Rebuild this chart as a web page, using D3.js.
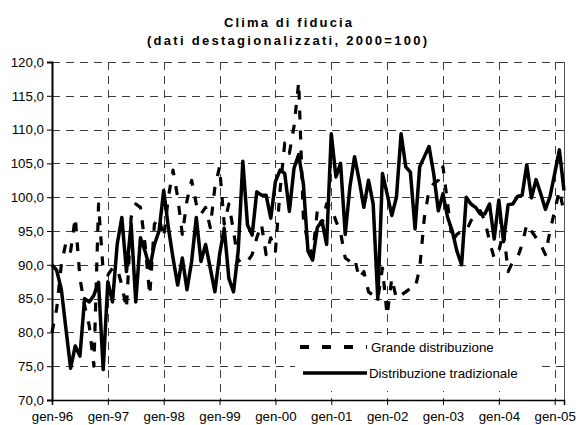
<!DOCTYPE html>
<html>
<head>
<meta charset="utf-8">
<script src="https://cdn.jsdelivr.net/npm/d3@7/dist/d3.min.js"></script>
<style>
  html, body { margin: 0; padding: 0; background: #fff; }
  svg { display: block; font-family: "Liberation Sans", Arial, sans-serif; }
</style>
</head>
<body>
<div id="chart"></div>
<script>
// ---- DATA ----
const titleLines = ["Clima di fiducia", "(dati destagionalizzati, 2000=100)"];
const seriesNames = ["Grande distribuzione", "Distribuzione tradizionale"];
const xTickLabels = ["gen-96","gen-97","gen-98","gen-99","gen-00","gen-01","gen-02","gen-03","gen-04","gen-05"];
const yTicks = [70,75,80,85,90,95,100,105,110,115,120];

// monthly values, gen-96 ... mar-05
const grandeDistribuzione = [
  80, 83.5, 90, 93.3, 92, 97, 88, 84, 81, 75, 99, 89,
  88.5, 89.5, 89.5, 87, 83.5, 97, 99, 98.5, 93, 85.5, 96, 97,
  94, 100, 104, 100, 94.5, 99.5, 102.5, 99, 97.5, 98.5, 95.5, 101.5,
  104.5, 96, 99, 95, 90.5, 91, 90.5, 91.5, 94, 96, 91.5, 94,
  92, 101, 108, 106.5, 110.5, 117, 97, 93, 91.5, 98, 96, 99,
  98.5, 96.5, 94.8, 91, 90.5, 91, 88, 89, 86, 85.5, 85, 89.5,
  82.5, 88, 85, 85.5, 86, 86.5, 86.5, 89.5, 97, 101, 102, 102.5,
  104.5, 99, 93.5, 94.5, 95, 95, 96.5, 97.5, 98, 96.5, 93.5, 91,
  92, 95, 89, 90.5, 91, 93, 96, 95, 94, 93, 91.5, 95,
  98, 101, 97.8
];
const distribuzioneTradizionale = [
  90, 89.2, 86.4, 80.5, 74.7, 78, 76.5, 85, 84.5, 85.5, 87.4, 74.5,
  87.5, 84.5, 93, 97, 89, 96, 84.5, 94, 92, 89.5, 93, 95,
  101, 95.5, 91, 87, 91, 86.3, 90.5, 97, 90.5, 93, 89.5, 86,
  91.5, 95.4, 88, 86, 92, 105.3, 95.9, 94.4, 100.8, 100.3, 100.3, 96.9,
  102.3, 104, 103.5, 97.9, 104.3, 106.3, 102, 92, 90.7, 95.5, 96.5, 93,
  109.4, 103, 105, 94.5, 101.5, 106, 102.5, 98.5, 102.5, 99, 84.9, 103.5,
  100.5, 97.3, 100, 109.4, 104.5, 103.7, 95.3, 104.5, 106, 107.5, 103.5, 98,
  100.5, 97, 95, 92, 90, 100, 99, 98.5, 97.5, 97.5, 99, 93.8,
  99.6, 93.4, 98.9, 99, 100.1, 100.3, 104.8, 99.9, 102.6, 100.5, 98.2, 100.1,
  103.5, 107, 101
];

// ---- LAYOUT ----
const W = 580, H = 425;
const plot = { left: 52, right: 564, top: 62, bottom: 400 };
const FONT = 13.3;
const FAMILY = "'Liberation Sans', Arial, sans-serif";

const svg = d3.select("#chart").append("svg")
  .attr("width", W).attr("height", H);

svg.append("rect").attr("width", W).attr("height", H).attr("fill", "#fff");

const n = distribuzioneTradizionale.length;
const x = d3.scaleLinear().domain([0, n - 1]).range([plot.left, plot.right]);
const y = d3.scaleLinear().domain([70, 120]).range([plot.bottom, plot.top]);
const xTickIdx = xTickLabels.map((d, i) => i * 12);

// title
svg.append("text").attr("x", 288).attr("y", 27)
  .attr("text-anchor", "middle").attr("font-weight", "bold").attr("font-family", FAMILY)
  .attr("font-size", 13).attr("textLength", 128).attr("lengthAdjust", "spacing")
  .text(titleLines[0]);
svg.append("text").attr("x", 287).attr("y", 45)
  .attr("text-anchor", "middle").attr("font-weight", "bold").attr("font-family", FAMILY)
  .attr("font-size", 13).attr("textLength", 280).attr("lengthAdjust", "spacing")
  .text(titleLines[1]);

// gridlines
const grid = svg.append("g").attr("stroke", "#3a3a3a").attr("stroke-width", 1)
  .attr("stroke-dasharray", "8,6").attr("shape-rendering", "crispEdges");
grid.selectAll("line.h").data(yTicks.filter(v => v > 70)).enter().append("line")
  .attr("x1", plot.left).attr("x2", plot.right)
  .attr("y1", d => Math.round(y(d)) + 0.5).attr("y2", d => Math.round(y(d)) + 0.5);
grid.selectAll("line.v").data(xTickIdx.filter(v => v > 0)).enter().append("line")
  .attr("y1", plot.top).attr("y2", plot.bottom)
  .attr("x1", d => Math.round(x(d)) + 0.5).attr("x2", d => Math.round(x(d)) + 0.5);

// right border
svg.append("line").attr("x1", plot.right + 0.5).attr("x2", plot.right + 0.5)
  .attr("y1", plot.top).attr("y2", plot.bottom)
  .attr("stroke", "#555").attr("stroke-width", 1);

// legend background
const lg = { x: 295, y: 335, w: 246, h: 56 };
svg.append("rect").attr("x", lg.x).attr("y", lg.y).attr("width", lg.w).attr("height", lg.h)
  .attr("fill", "#fff");

// series
const line = d3.line().x((d, i) => x(i)).y(d => y(d));
svg.append("path").datum(grandeDistribuzione)
  .attr("d", line).attr("fill", "none").attr("stroke", "#000")
  .attr("stroke-width", 3.2).attr("stroke-dasharray", "9,11")
  .attr("stroke-linejoin", "round");
svg.append("path").datum(distribuzioneTradizionale)
  .attr("d", line).attr("fill", "none").attr("stroke", "#000")
  .attr("stroke-width", 3.5).attr("stroke-linejoin", "round");

// axes
const yAxis = d3.axisLeft(y).tickValues(yTicks).tickSize(5).tickPadding(3)
  .tickFormat(d => d.toFixed(1).replace(".", ","));
const gy = svg.append("g").attr("transform", `translate(${plot.left},0)`).call(yAxis);
gy.select(".domain").attr("stroke", "#000").attr("stroke-width", 2);
gy.selectAll(".tick line").attr("stroke", "#000");
gy.selectAll(".tick text").attr("font-size", FONT).attr("font-family", FAMILY)
  .attr("fill", "#000");

const xAxis = d3.axisBottom(x).tickValues(xTickIdx).tickSize(5).tickPadding(7)
  .tickFormat((d, i) => xTickLabels[i]);
const gx = svg.append("g").attr("transform", `translate(0,${plot.bottom})`).call(xAxis);
gx.select(".domain").attr("stroke", "#000").attr("stroke-width", 1.5);
gx.selectAll(".tick line").attr("stroke", "#000");
gx.selectAll(".tick text").attr("font-size", FONT).attr("font-family", FAMILY)
  .attr("fill", "#000");

// legend
const legend = svg.append("g").attr("font-family", FAMILY);
legend.append("line").attr("x1", 300).attr("x2", 367).attr("y1", 347).attr("y2", 347)
  .attr("stroke", "#000").attr("stroke-width", 4).attr("stroke-dasharray", "9,13");
legend.append("text").attr("x", 371).attr("y", 352).attr("font-size", FONT)
  .text(seriesNames[0]);
legend.append("line").attr("x1", 303).attr("x2", 367).attr("y1", 373).attr("y2", 373)
  .attr("stroke", "#000").attr("stroke-width", 3.5);
legend.append("text").attr("x", 369).attr("y", 378).attr("font-size", FONT)
  .text(seriesNames[1]);
</script>
</body>
</html>
